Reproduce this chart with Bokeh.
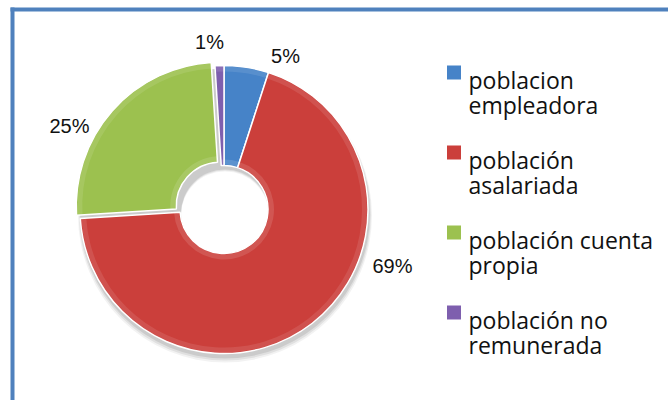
import numpy as np
from bokeh.plotting import figure
from bokeh.models import Range1d, ColumnDataSource
from bokeh.core.properties import value
from bokeh.embed import file_html
from bokeh.resources import INLINE

# ---- data ----
categories = ["poblacion empleadora", "población asalariada",
              "población cuenta propia", "población no remunerada"]
legend_line1 = ["poblacion", "población", "población cuenta", "población no"]
legend_line2 = ["empleadora", "asalariada", "propia", "remunerada"]
values = [5, 69, 25, 1]

# ---- style / layout ----
colors = ["#4683C8", "#CB3F3B", "#9CC14F", "#7E5FAE"]
explode = [0, 0, 5, 0]
label_dx = [61.5, 168.5, -154.5, -14.5]
label_dy = [154, -56, 84, 168]

W, H = 668, 400
p = figure(width=W, height=H, output_backend="svg", toolbar_location=None,
           x_range=Range1d(0, W), y_range=Range1d(-H, 0),
           min_border=0)
p.axis.visible = False
p.grid.visible = False
p.outline_line_color = None
p.background_fill_color = "white"
p.border_fill_color = "white"

cx, cy = 223.5, -209.0
R, r = 144.0, 44.0

vals = np.array(values, dtype=float)
frac = vals / vals.sum()
end_cw = np.cumsum(frac) * 2 * np.pi
start_cw = end_cw - frac * 2 * np.pi
mid_cw = (start_cw + end_cw) / 2
ex = np.array(explode, dtype=float)

src = ColumnDataSource(dict(
    x=cx + ex * np.sin(mid_cw),
    y=cy + ex * np.cos(mid_cw),
    start=np.pi / 2 - end_cw,
    end=np.pi / 2 - start_cw,
    color=colors,
    label=[f"{v:g}%" for v in values],
    lx=cx + np.array(label_dx),
    ly=cy + np.array(label_dy),
))

# soft shadow
for k, a in [(3, 0.05), (2, 0.07), (1, 0.09)]:
    p.annulus(x=cx + 1, y=cy - 3 - k, inner_radius=r, outer_radius=R + k,
              fill_color="#000000", fill_alpha=a, line_color=None)

p.annular_wedge(x="x", y="y", inner_radius=r, outer_radius=R,
                start_angle="start", end_angle="end",
                fill_color="color", line_color="white", line_width=1.5,
                source=src)
# subtle bevel highlights
p.annular_wedge(x="x", y="y", inner_radius=R - 6, outer_radius=R - 1,
                start_angle="start", end_angle="end",
                fill_color="white", fill_alpha=0.10, line_color=None,
                source=src)
p.annular_wedge(x="x", y="y", inner_radius=r + 1, outer_radius=r + 6,
                start_angle="start", end_angle="end",
                fill_color="white", fill_alpha=0.12, line_color=None,
                source=src)

p.text(x="lx", y="ly", text="label", source=src,
       text_font=value("Liberation Sans"), text_font_size="20px",
       text_align="center", text_baseline="middle", text_color="#111111")

# legend
leg_y0, leg_step = -72.0, -80.0
n = len(categories)
mk_y = [leg_y0 + i * leg_step for i in range(n)]
leg = ColumnDataSource(dict(
    mx=[453.5] * n, my=mk_y, color=colors,
    tx=[468] * n,
    t1=legend_line1, t2=legend_line2,
    y1=[y - 7 for y in mk_y], y2=[y - 32 for y in mk_y],
))
p.rect(x="mx", y="my", width=14, height=14, fill_color="color",
       line_color=None, source=leg)
p.text(x="tx", y="y1", text="t1", source=leg,
       text_font=value("Open Sans"), text_font_size="23px",
       text_align="left", text_baseline="alphabetic", text_color="#111111")
p.text(x="tx", y="y2", text="t2", source=leg,
       text_font=value("Open Sans"), text_font_size="23px",
       text_align="left", text_baseline="alphabetic", text_color="#111111")

# chart frame (left and top edges visible)
p.quad(left=[10, 10], right=[W, 14], top=[-7, -7],
       bottom=[-11, -H], fill_color="#4F81BD", line_color=None)

open("out.html", "w").write(file_html(p, INLINE))
